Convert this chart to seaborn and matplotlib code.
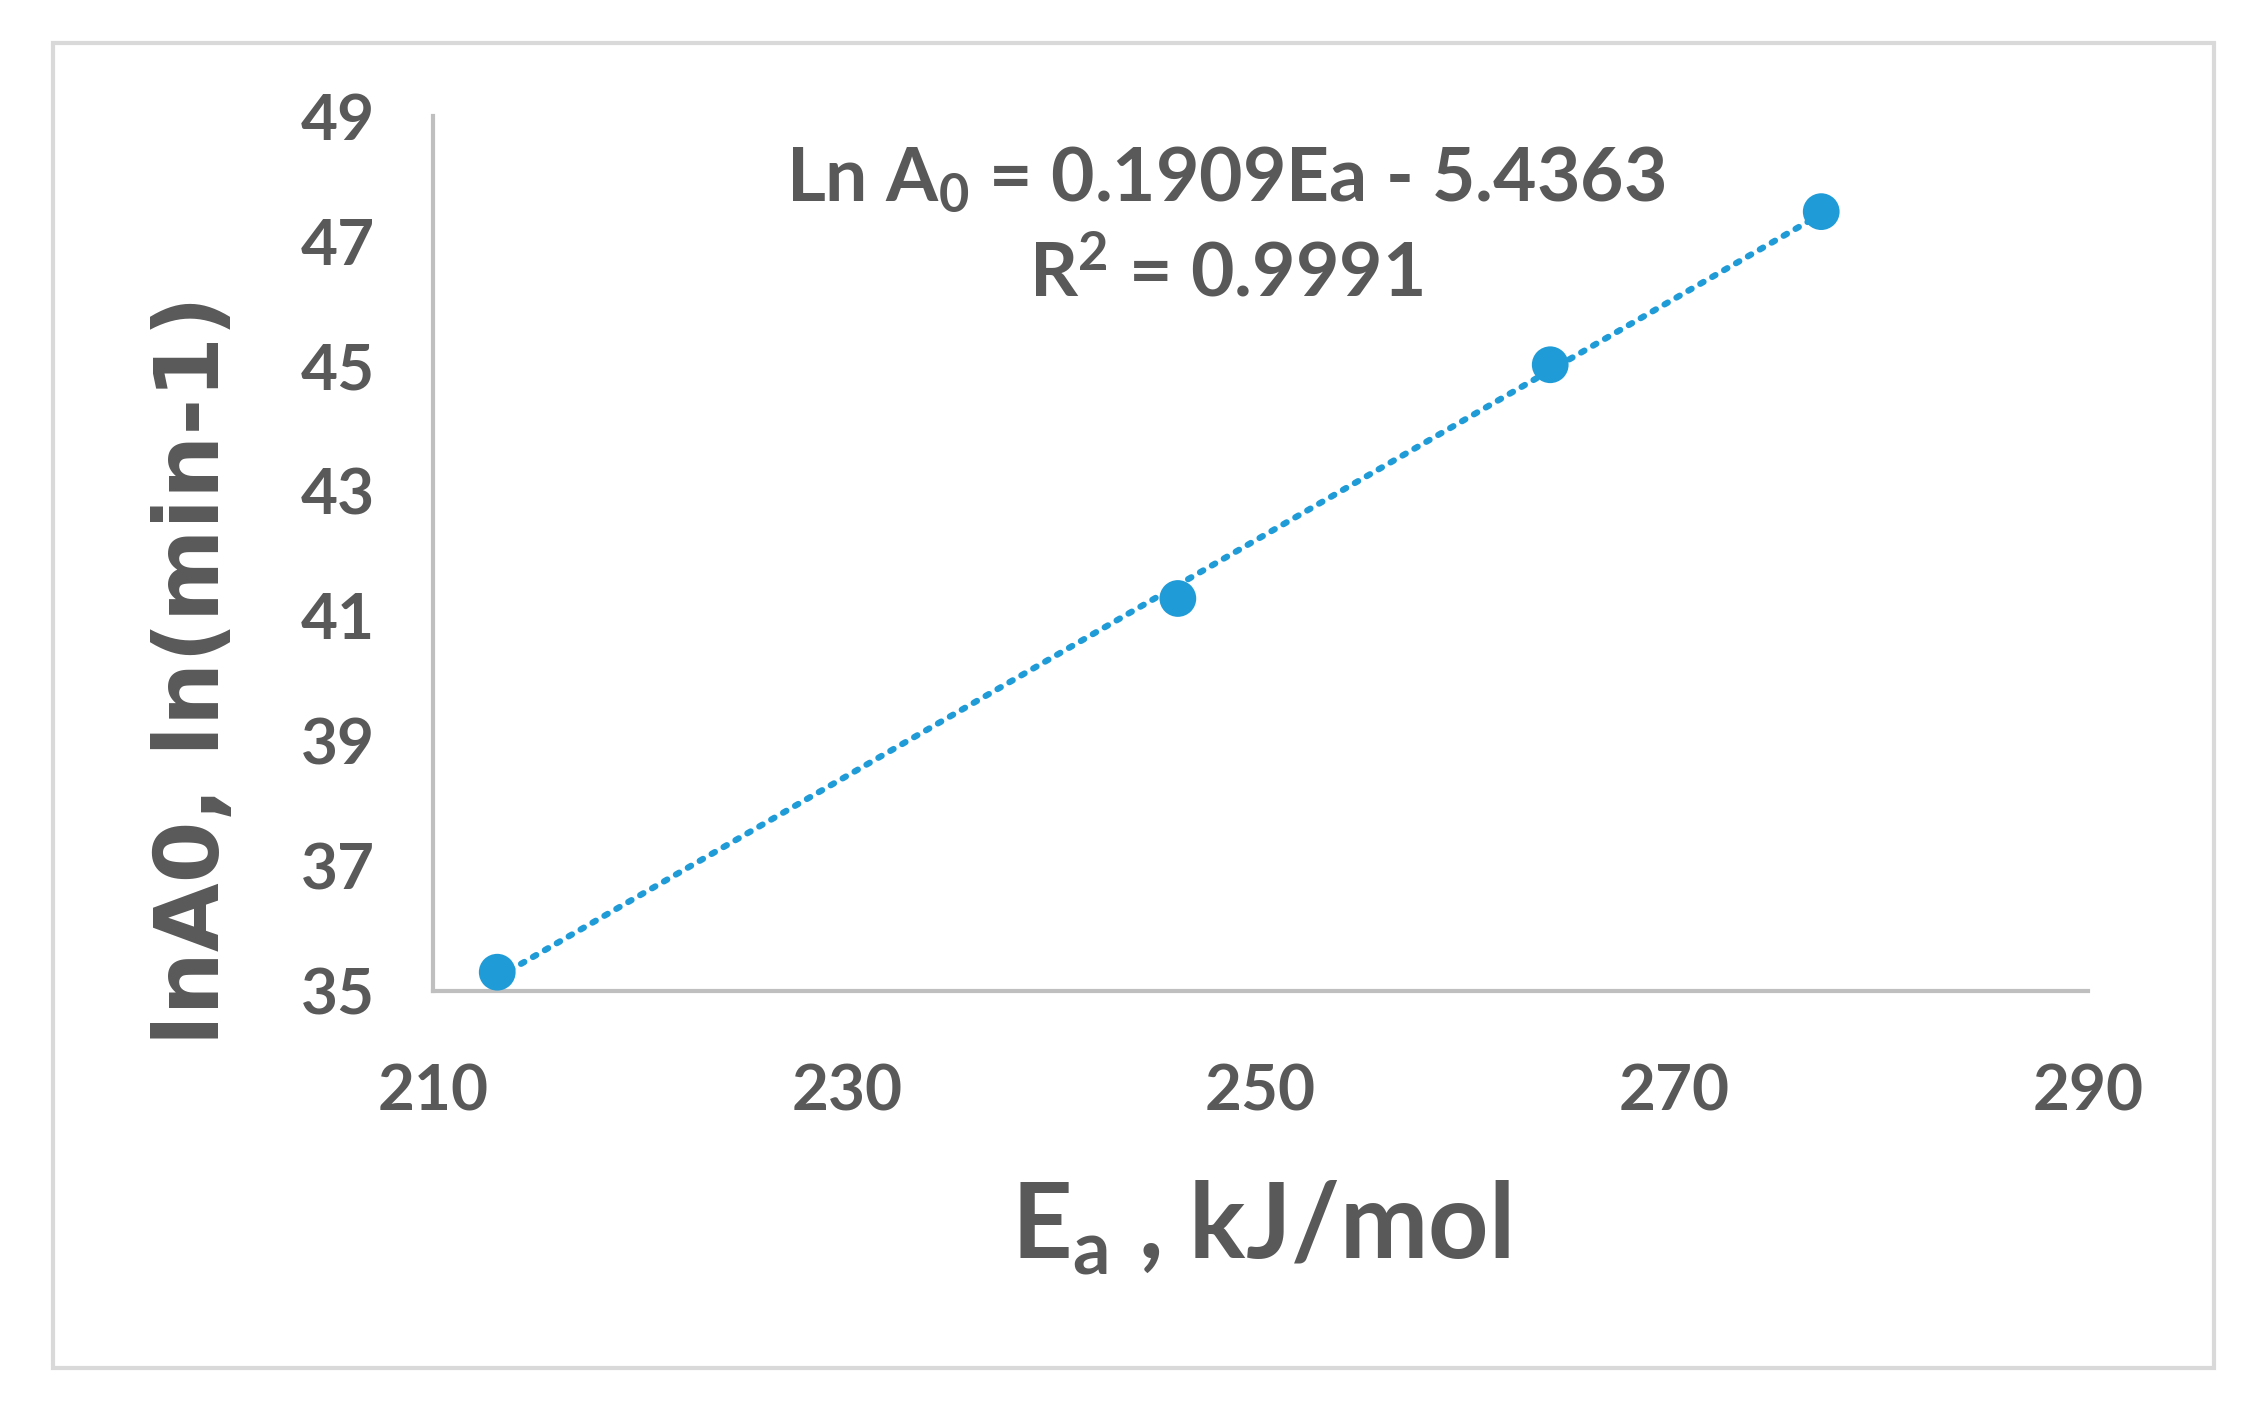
import numpy as np
import pandas as pd
import matplotlib
matplotlib.use("Agg")
import matplotlib.pyplot as plt
import seaborn as sns
from matplotlib.patches import Rectangle

# Data
ea = [213.1, 246.0, 264.0, 277.1]          # kJ/mol
ln_a0 = [35.30, 41.28, 45.02, 47.47]       # ln(min-1)
x_ticks = [210, 230, 250, 270, 290]
y_ticks = [35, 37, 39, 41, 43, 45, 47, 49]
eq_text = "Ln A$_0$ = 0.1909Ea - 5.4363\nR$^2$ = 0.9991"

df = pd.DataFrame({"Ea": ea, "lnA0": ln_a0})

sns.set_theme(style="white")
plt.rcParams["font.family"] = ["Lato", "DejaVu Sans"]
plt.rcParams["mathtext.default"] = "regular"

grey = "#595959"
blue = "#1f9bd7"

fig = plt.figure(figsize=(22.64, 14.08), dpi=100)
ax = fig.add_axes([0.1913, 0.2962, 0.7310, 0.6214])

sns.regplot(data=df, x="Ea", y="lnA0", ax=ax, ci=None, truncate=True,
            scatter_kws={"s": 700, "color": blue, "alpha": 1,
                         "edgecolor": "none", "zorder": 3},
            line_kws={"color": blue, "lw": 4.5, "ls": (0, (0.6, 1.6)),
                      "dash_capstyle": "round"})

ax.set_xlim(210, 290)
ax.set_ylim(35, 49)
ax.set_xticks(x_ticks)
ax.set_yticks(y_ticks)
ax.tick_params(length=0, labelsize=46, colors=grey)
ax.tick_params(axis="x", pad=52)
ax.tick_params(axis="y", pad=42)
for lab in ax.get_xticklabels() + ax.get_yticklabels():
    lab.set_fontweight("bold")

sns.despine(ax=ax)
for s in ["left", "bottom"]:
    ax.spines[s].set_color("#bfbfbf")
    ax.spines[s].set_linewidth(3)

ax.set_xlabel("E$_a$ , kJ/mol", fontsize=76, fontweight="bold", color=grey)
ax.xaxis.label.set_va("baseline")
ax.xaxis.set_label_coords(0.5, -0.306)

ax.set_ylabel("lnA0, ln(min-1)", fontsize=64, fontweight="bold", color=grey,
              family=["DejaVu Sans"])
ax.yaxis.label.set_va("center")
ax.yaxis.set_label_coords(-0.144, 0.367)

ax.text(248.3, 47.22, eq_text, ha="center", va="center", fontsize=54,
        fontweight="bold", color=grey, linespacing=1.45)

fig.patches.append(Rectangle((53 / 2264, 1 - 1368 / 1408), (2214 - 53) / 2264,
                             (1368 - 43) / 1408, transform=fig.transFigure,
                             fill=False, edgecolor="#d9d9d9", linewidth=3))

fig.savefig("out.png", dpi=100, facecolor="white")
